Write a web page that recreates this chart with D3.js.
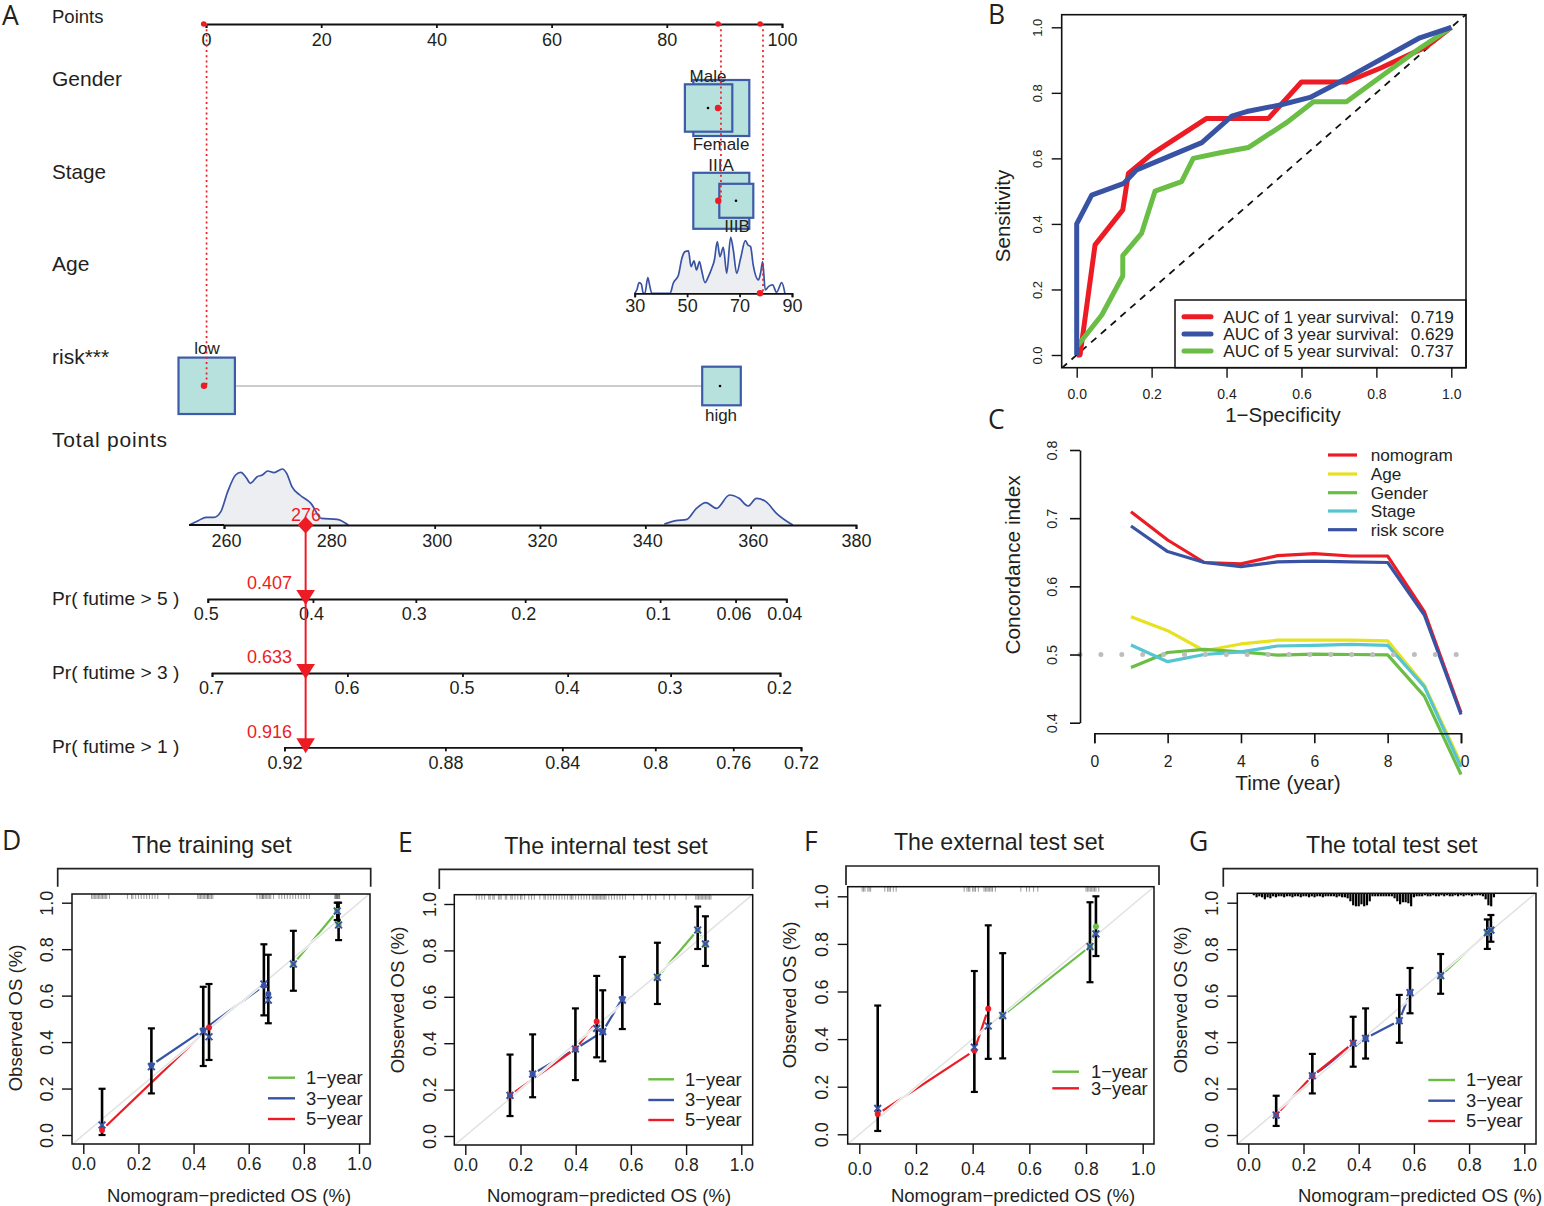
<!DOCTYPE html>
<html>
<head>
<meta charset="utf-8">
<script src="https://cdn.jsdelivr.net/npm/d3@7"></script>
<style>
body { margin: 0; background: #fff; }
svg { display: block; }
text { font-family: "Liberation Sans", Arial, sans-serif; fill: #231f20; }
.panel-letter { font-family: "Open Sans", sans-serif; font-size: 26.5px; }
</style>
</head>
<body>
<svg id="chart" width="1544" height="1206"></svg>
<script>
// colours
var RED = "#ed1c24", BLUE = "#3953a4", GREEN = "#6abd45", YELLOW = "#e6e21f", CYAN = "#56c5d0"

// panel A, nomogram
var pointsTicks = [0, 20, 40, 60, 80, 100]
var pointsDots = [-0.4, 88.9, 96.2]
var pointsDotted = [0.1, 89.4, 96.7]
var ageTicks = [30, 50, 70, 90]
var ageX = [30, 30.8, 31.7, 32.5, 33.3, 33.9, 35, 35.8, 36.5, 43.5, 44.7, 46.7, 48, 49.2, 50.5, 51.5, 52.6, 53.6, 54.7, 55.5, 56.8, 58.1, 59.4, 60.4, 61.5, 62.5, 63.8, 65.1, 66.6, 67.6, 68.9, 70.4, 72.2, 73.2, 74.2, 75.2, 77.2, 78, 78.8, 79.8, 81, 82.6, 84.1, 86.1, 87.3]
var ageDensity = [0, 10, 32, 28, 0, 0, 47, 20, 0, 0, 30, 55, 105, 125, 127, 80, 97, 70, 95, 70, 32, 50, 75, 100, 155, 110, 138, 60, 168, 130, 60, 105, 158, 145, 140, 85, 40, 60, 95, 10, 20, 25, 3, 32, 0]
var totalTicks = [260, 280, 300, 320, 340, 360, 380]
var totalX1 = [253.4, 255.1, 256.6, 258.1, 259.4, 260.7, 262.2, 263.2, 264.3, 265, 266.3, 267.3, 268.3, 269.5, 271.1, 271.9, 272.9, 274.4, 276.5, 278.5, 281.5, 283.6]
var totalDensity1 = [0, 13, 23, 23, 40, 100, 150, 158, 140, 125, 145, 150, 162, 157, 168, 155, 115, 90, 65, 20, 17, 0]
var totalX2 = [343.6, 345.8, 347.9, 349.7, 351.5, 353.5, 356, 357.8, 359.5, 361.1, 362.9, 364.9, 368]
var totalDensity2 = [3, 13, 17, 50, 67, 50, 90, 80, 57, 80, 70, 35, 0]
var pr5Ticks = [0.5, 0.4, 0.3, 0.2, 0.1, 0.06, 0.04]
var pr3Ticks = [0.7, 0.6, 0.5, 0.4, 0.3, 0.2]
var pr1Ticks = [0.92, 0.88, 0.84, 0.8, 0.76, 0.72]
var totalMarker = 275.5
var prLabels = ["0.407", "0.633", "0.916"]

// panel B, ROC
var rocRedX = [0, 0.009, 0.049, 0.123, 0.138, 0.2, 0.347, 0.512, 0.6, 0.72, 0.81, 0.934, 1]
var rocRedY = [0, 0, 0.336, 0.443, 0.554, 0.613, 0.722, 0.722, 0.833, 0.833, 0.875, 0.941, 1]
var rocBlueX = [0, 0, 0.04, 0.126, 0.16, 0.334, 0.414, 0.454, 0.543, 0.623, 0.72, 0.916, 1]
var rocBlueY = [0, 0.4, 0.488, 0.524, 0.565, 0.648, 0.729, 0.743, 0.763, 0.786, 0.844, 0.968, 1]
var rocGreenX = [0, 0.067, 0.123, 0.123, 0.173, 0.209, 0.28, 0.311, 0.383, 0.458, 0.56, 0.632, 0.72, 0.916, 1]
var rocGreenY = [0.025, 0.122, 0.241, 0.303, 0.371, 0.5, 0.529, 0.6, 0.617, 0.633, 0.709, 0.773, 0.773, 0.936, 1]
var rocLegend = ["AUC of 1 year survival:", "AUC of 3 year survival:", "AUC of 5 year survival:"]
var rocAuc = ["0.719", "0.629", "0.737"]
var unitTicks = [0, 0.2, 0.4, 0.6, 0.8, 1]

// panel C, concordance
var years = [1, 2, 3, 4, 5, 6, 7, 8, 9, 10]
var cNomogram = [0.7095, 0.668, 0.635, 0.633, 0.645, 0.648, 0.6445, 0.6445, 0.563, 0.415]
var cAge = [0.5555, 0.535, 0.5055, 0.5155, 0.521, 0.521, 0.521, 0.52, 0.455, 0.34]
var cGender = [0.481, 0.503, 0.5075, 0.504, 0.499, 0.5005, 0.5, 0.4995, 0.439, 0.324]
var cStage = [0.514, 0.4895, 0.5, 0.504, 0.5125, 0.5135, 0.515, 0.5135, 0.453, 0.335]
var cRisk = [0.6885, 0.651, 0.635, 0.629, 0.636, 0.637, 0.636, 0.635, 0.558, 0.412]
var cNames = ["nomogram", "Age", "Gender", "Stage", "risk score"]
var cYTicks = [0.4, 0.5, 0.6, 0.7, 0.8]
var cXTicks = [0, 2, 4, 6, 8]

// panel D, training set
var predD = [0.068, 0.456, 0.247, 0.435, 0.655, 0.671, 0.762, 0.921, 0.926]
var obsD = [0.022, 0.463, 0.301, 0.452, 0.643, 0.607, 0.736, 0.964, 0.904]
var corD = [0.043, 0.423, 0.294, 0.445, 0.65, 0.581, 0.736, 0.964, 0.904]
var loD = [0, 0.323, 0.179, 0.297, 0.515, 0.481, 0.621, 0.925, 0.839]
var hiD = [0.199, 0.65, 0.459, 0.638, 0.821, 0.776, 0.879, 1, 1]
var groupsD = [[6, 7, 8], [2, 3, 4, 5], [0, 1]]
var rugD = [0.03, 0.035, 0.04, 0.045, 0.05, 0.055, 0.06, 0.065, 0.07, 0.075, 0.08, 0.085, 0.095, 0.16, 0.175, 0.18, 0.19, 0.2, 0.21, 0.22, 0.23, 0.24, 0.25, 0.26, 0.27, 0.31, 0.415, 0.42, 0.425, 0.43, 0.435, 0.44, 0.445, 0.45, 0.452, 0.455, 0.46, 0.465, 0.47, 0.63, 0.64, 0.645, 0.65, 0.652, 0.655, 0.66, 0.665, 0.67, 0.675, 0.68, 0.69, 0.71, 0.72, 0.73, 0.74, 0.75, 0.76, 0.77, 0.78, 0.79, 0.8, 0.81, 0.82, 0.912, 0.915, 0.918, 0.92, 0.922, 0.925, 0.928, 0.93]

// panel E, internal test set
var predE = [0.162, 0.244, 0.399, 0.476, 0.498, 0.569, 0.696, 0.842, 0.87]
var obsE = [0.175, 0.267, 0.375, 0.493, 0.45, 0.593, 0.684, 0.888, 0.828]
var corE = [0.175, 0.267, 0.375, 0.464, 0.45, 0.586, 0.684, 0.888, 0.828]
var loE = [0.086, 0.167, 0.241, 0.339, 0.322, 0.461, 0.569, 0.806, 0.733]
var hiE = [0.351, 0.438, 0.55, 0.69, 0.628, 0.772, 0.833, 0.989, 0.947]
var groupsE = [[6, 7, 8], [1, 2, 4, 5], [0, 2, 3]]
var rugE = [0.04, 0.05, 0.06, 0.07, 0.085, 0.09, 0.1, 0.105, 0.12, 0.125, 0.13, 0.145, 0.15, 0.165, 0.17, 0.18, 0.19, 0.2, 0.205, 0.215, 0.23, 0.24, 0.25, 0.27, 0.285, 0.29, 0.3, 0.31, 0.32, 0.33, 0.34, 0.35, 0.36, 0.37, 0.38, 0.385, 0.39, 0.4, 0.41, 0.42, 0.43, 0.44, 0.45, 0.46, 0.465, 0.47, 0.475, 0.48, 0.485, 0.49, 0.495, 0.5, 0.505, 0.51, 0.52, 0.53, 0.54, 0.55, 0.56, 0.57, 0.58, 0.61, 0.64, 0.66, 0.67, 0.69, 0.72, 0.74, 0.76, 0.8, 0.835, 0.84, 0.845, 0.85, 0.855, 0.86, 0.865, 0.87, 0.875, 0.88, 0.885, 0.89]

// panel F, external test set
var predF = [0.065, 0.406, 0.455, 0.506, 0.814, 0.835]
var obsF = [0.085, 0.352, 0.527, 0.499, 0.789, 0.873]
var corF = [0.109, 0.366, 0.455, 0.499, 0.789, 0.842]
var loF = [0.014, 0.178, 0.317, 0.319, 0.639, 0.749]
var hiF = [0.541, 0.686, 0.878, 0.761, 0.975, 1]
var groupsF = [[3, 4, 5], [], [0, 1, 2]]
var rugF = [0.01, 0.015, 0.02, 0.03, 0.035, 0.04, 0.09, 0.1, 0.105, 0.11, 0.12, 0.13, 0.37, 0.38, 0.385, 0.39, 0.4, 0.405, 0.41, 0.42, 0.44, 0.445, 0.45, 0.455, 0.46, 0.465, 0.47, 0.48, 0.57, 0.59, 0.6, 0.615, 0.63, 0.8, 0.805, 0.81, 0.815, 0.82, 0.825, 0.83, 0.835, 0.845]

// panel G, total test set
var predG = [0.101, 0.232, 0.38, 0.425, 0.547, 0.586, 0.697, 0.866, 0.879]
var obsG = [0.086, 0.255, 0.395, 0.416, 0.492, 0.613, 0.686, 0.871, 0.882]
var corG = [0.086, 0.255, 0.395, 0.416, 0.492, 0.613, 0.686, 0.871, 0.882]
var loG = [0.039, 0.179, 0.294, 0.329, 0.397, 0.524, 0.608, 0.801, 0.832]
var hiG = [0.169, 0.349, 0.509, 0.545, 0.603, 0.719, 0.779, 0.928, 0.947]
var groupsG = [[6, 7, 8], [1, 3, 4, 5], [0, 1, 2]]
var rugGx = [0.02, 0.03, 0.04, 0.05, 0.06, 0.07, 0.08, 0.09, 0.1, 0.11, 0.12, 0.13, 0.14, 0.15, 0.16, 0.17, 0.18, 0.19, 0.2, 0.21, 0.22, 0.23, 0.24, 0.25, 0.26, 0.27, 0.28, 0.29, 0.3, 0.31, 0.32, 0.33, 0.34, 0.35, 0.36, 0.37, 0.38, 0.39, 0.4, 0.41, 0.42, 0.43, 0.44, 0.45, 0.46, 0.47, 0.48, 0.49, 0.5, 0.51, 0.52, 0.53, 0.54, 0.55, 0.56, 0.57, 0.58, 0.59, 0.6, 0.61, 0.62, 0.63, 0.64, 0.65, 0.66, 0.67, 0.68, 0.69, 0.7, 0.71, 0.72, 0.73, 0.74, 0.75, 0.76, 0.77, 0.78, 0.79, 0.8, 0.81, 0.82, 0.83, 0.84, 0.85, 0.86, 0.87, 0.88, 0.89]
var rugGh = [2, 4, 3, 4, 6, 4, 5, 3, 4, 3, 3, 4, 3, 3, 4, 3, 3, 4, 3, 3, 4, 3, 4, 3, 3, 4, 3, 3, 3, 3, 4, 3, 4, 4, 5, 8, 12, 13, 13, 11, 13, 12, 8, 3, 3, 3, 3, 3, 3, 3, 3, 5, 8, 11, 9, 9, 10, 13, 4, 3, 3, 3, 2, 3, 3, 2, 3, 3, 2, 3, 2, 3, 3, 2, 3, 2, 3, 2, 2, 3, 2, 2, 2, 3, 6, 12, 13, 4]

var svg = d3.select("#chart")

function cloglog(p)
{
    return Math.log(-Math.log(p))
}

function addText(parent, x, y, str, size, anchor, rotate)
{
    var t = parent.append("text")
        .attr("font-size", size)
        .attr("text-anchor", anchor || "start")
        .attr("dy", "0.35em")
        .text(str)
    if(rotate)
        t.attr("transform", "translate(" + x + "," + y + ") rotate(-90)")
    else
        t.attr("x", x).attr("y", y)
    return t
}

function styleAxis(g, width)
{
    g.selectAll("path.domain").attr("stroke", "#111").attr("stroke-width", width)
    g.selectAll(".tick line").attr("stroke", "#111").attr("stroke-width", width)
}

// nomogram axis with labels centred at labelY
function nomAxis(scale, y, ticks, labels, labelY, dx)
{
    var g = svg.append("g").attr("transform", "translate(0," + y + ")")
        .call(d3.axisBottom(scale).tickValues(ticks).tickSizeOuter(0).tickSize(4)
            .tickFormat(function(d, i){ return labels[i] }))
    styleAxis(g, 1.8)
    g.selectAll(".tick text")
        .attr("font-size", 18)
        .attr("font-family", null)
        .attr("y", labelY - y)
        .attr("x", dx)
        .attr("dy", "0.35em")
    return g
}

function nomBox(cx, cy, half)
{
    svg.append("rect")
        .attr("x", cx - half).attr("y", cy - half)
        .attr("width", half * 2).attr("height", half * 2)
        .attr("fill", "#b7e1dc").attr("stroke", "#3e5ba9").attr("stroke-width", 2.2)
}

function dot(x, y, r, col)
{
    svg.append("circle").attr("cx", x).attr("cy", y).attr("r", r).attr("fill", col)
}

function drawDensity(data, xScale, yScale, filled)
{
    svg.append("path").datum(filled)
        .attr("fill", "#edeef2")
        .attr("d", d3.area().curve(d3.curveMonotoneX)
            .x(function(d){ return xScale(d[0]) }).y0(yScale(0)).y1(function(d){ return yScale(d[1]) }))
    svg.append("path").datum(data)
        .attr("fill", "none").attr("stroke", BLUE).attr("stroke-width", 1.7)
        .attr("d", d3.line().curve(d3.curveMonotoneX)
            .x(function(d){ return xScale(d[0]) }).y(function(d){ return yScale(d[1]) }))
}

function drawNomogram()
{
    var pts = d3.scaleLinear().domain([0, 100]).range([206, 782])
    var rowLabels = [["Points", 17, 18.5], ["Gender", 79, 21], ["Stage", 172, 20.7], ["Age", 264, 21], ["risk***", 357, 21], ["Total points", 440, 21], ["Pr( futime > 5 )", 598, 19.2], ["Pr( futime > 3 )", 672, 19.2], ["Pr( futime > 1 )", 746, 19.2]]
    rowLabels.forEach(function(r)
    {
        var t = addText(svg, 52, r[1], r[0], r[2])
        if(r[0] == "Total points") t.attr("letter-spacing", 0.8)
    })

    // risk connector
    svg.append("line").attr("x1", 235).attr("x2", 702).attr("y1", 386).attr("y2", 386)
        .attr("stroke", "#bdbdbd").attr("stroke-width", 1.6)

    nomBox(721.3, 108, 28)
    nomBox(708.6, 108, 23.7)
    nomBox(721.3, 200.8, 28)
    nomBox(736.3, 200.8, 17)
    nomBox(206.7, 385.8, 28.2)
    nomBox(721.5, 386, 19.3)

    var boxLabels = [["Male", 708, 76], ["Female", 721, 144], ["IIIA", 721, 165], ["IIIB", 737, 226], ["low", 207, 348], ["high", 721, 415]]
    boxLabels.forEach(function(b){ addText(svg, b[1], b[2], b[0], 17, "middle") })

    var blackDots = [[708, 108], [736, 200.8], [720, 386]]
    blackDots.forEach(function(d){ dot(d[0], d[1], 1.3, "#000") })

    // age density, only the main body is shaded
    var age = d3.scaleLinear().domain([30, 90]).range([634.7, 792])
    var ageH = d3.scaleLinear().domain([0, 168]).range([293.3, 237.3])
    var ageData = ageX.map(function(d, i){ return [d, ageDensity[i]] })
    var ageBody = ageData.filter(function(d){ return d[0] >= 43.5 && d[0] <= 79.8 })
    drawDensity(ageData, age, ageH, ageBody)
    nomAxis(age, 293.3, ageTicks, ageTicks, 306, 0)

    // total points density
    var total = d3.scaleLinear().domain([260, 380]).range([224, 856])
    var totalH = d3.scaleLinear().domain([0, 168]).range([525, 469])
    var humps = [[totalX1, totalDensity1], [totalX2, totalDensity2]]
    humps.forEach(function(h)
    {
        var data = h[0].map(function(d, i){ return [d, h[1][i]] })
        drawDensity(data, total, totalH, data)
    })
    var totalAxis = nomAxis(total, 525, totalTicks, totalTicks, 540.7, 2)
    totalAxis.selectAll(".tick text").filter(function(d){ return d == 380 }).attr("x", 0)
    svg.append("line").attr("x1", 189).attr("x2", 224).attr("y1", 525).attr("y2", 525)
        .attr("stroke", "#111").attr("stroke-width", 1.8)

    // points axis and probability axes
    nomAxis(pts, 24, pointsTicks, pointsTicks, 40, 0)

    var pr5 = d3.scaleLinear().domain([cloglog(0.5), cloglog(0.04)]).range([207.8, 786.3])
    nomAxis(pr5, 599, pr5Ticks.map(cloglog), pr5Ticks, 614, -2)
    var pr3 = d3.scaleLinear().domain([cloglog(0.7), cloglog(0.2)]).range([212, 780])
    nomAxis(pr3, 673, pr3Ticks.map(cloglog), pr3Ticks, 688, -1)
    var pr1 = d3.scaleLinear().domain([cloglog(0.92), cloglog(0.72)]).range([284.4, 801])
    nomAxis(pr1, 747.3, pr1Ticks.map(cloglog), pr1Ticks, 762.7, 0)

    // red dotted guides
    var dottedEnds = [385.8, 200.8, 293.3]
    pointsDotted.forEach(function(p, i)
    {
        svg.append("line").attr("x1", pts(p)).attr("x2", pts(p)).attr("y1", 24).attr("y2", dottedEnds[i])
            .attr("stroke", RED).attr("stroke-width", 1.7).attr("stroke-dasharray", "2 3.2")
    })
    pointsDots.forEach(function(p){ dot(pts(p), 24, 2.8, RED) })
    dot(718, 108, 3.2, RED)
    dot(718.3, 200.8, 3.2, RED)
    dot(760, 293.3, 3.2, RED)
    dot(204, 385.8, 3.2, RED)

    // red prediction line
    var mx = total(totalMarker)
    svg.append("line").attr("x1", mx).attr("x2", mx).attr("y1", 525).attr("y2", 750)
        .attr("stroke", RED).attr("stroke-width", 2)
    svg.append("path")
        .attr("transform", "translate(" + mx + ",525)")
        .attr("d", "M0,-8.5L8,0L0,8.5L-8,0Z").attr("fill", RED)
    var arrowY = [599, 673, 747.3]
    arrowY.forEach(function(y, i)
    {
        svg.append("path")
            .attr("transform", "translate(" + mx + "," + y + ")")
            .attr("d", "M-9.3,-9L9.3,-9L0,6Z").attr("fill", RED)
        addText(svg, 269.5, y - 16, prLabels[i], 18, "middle").style("fill", RED)
    })
    addText(svg, 306, 515, "276", 18, "middle").style("fill", RED)
}

function drawRoc()
{
    var x = d3.scaleLinear().domain([0, 1]).range([1076.7, 1451.3])
    var y = d3.scaleLinear().domain([0, 1]).range([355, 27.3])
    var box = {x: 1061.7, y: 14.7, w: 404.3, h: 353}

    svg.append("clipPath").attr("id", "rocClip").append("rect")
        .attr("x", box.x).attr("y", box.y).attr("width", box.w).attr("height", box.h)

    var diag = [-0.04, 1.04]
    svg.append("line").attr("clip-path", "url(#rocClip)")
        .attr("x1", x(diag[0])).attr("y1", y(diag[0])).attr("x2", x(diag[1])).attr("y2", y(diag[1]))
        .attr("stroke", "#111").attr("stroke-width", 1.8).attr("stroke-dasharray", "7 6")

    var series = [[rocRedX, rocRedY, RED], [rocGreenX, rocGreenY, GREEN], [rocBlueX, rocBlueY, BLUE]]
    series.forEach(function(s)
    {
        var data = s[0].map(function(d, i){ return [x(d), y(s[1][i])] })
        svg.append("path").datum(data)
            .attr("fill", "none").attr("stroke", s[2]).attr("stroke-width", 5)
            .attr("stroke-linejoin", "round")
            .attr("d", d3.line())
    })

    // legend
    svg.append("rect").attr("x", 1175).attr("y", 300).attr("width", 291).attr("height", 67.7)
        .attr("fill", "#fff").attr("stroke", "#111").attr("stroke-width", 1.5)
    var legendCols = [RED, BLUE, GREEN]
    var legendY = [316.7, 334, 351]
    rocLegend.forEach(function(str, i)
    {
        svg.append("line").attr("x1", 1184).attr("x2", 1211).attr("y1", legendY[i]).attr("y2", legendY[i])
            .attr("stroke", legendCols[i]).attr("stroke-width", 5).attr("stroke-linecap", "round")
        addText(svg, 1223.3, legendY[i], str, 17.2)
        addText(svg, 1410.7, legendY[i], rocAuc[i], 17.2)
    })

    svg.append("rect").attr("x", box.x).attr("y", box.y).attr("width", box.w).attr("height", box.h)
        .attr("fill", "none").attr("stroke", "#111").attr("stroke-width", 1.6)

    var gx = svg.append("g").attr("transform", "translate(0," + (box.y + box.h) + ")")
        .call(d3.axisBottom(x).tickValues(unitTicks).tickSize(10).tickSizeOuter(0).tickFormat(d3.format(".1f")))
    styleAxis(gx, 1.4)
    gx.select("path.domain").remove()
    gx.selectAll(".tick text").attr("font-size", 14).attr("font-family", null).attr("y", 26.5).attr("dy", "0.35em")

    var gy = svg.append("g").attr("transform", "translate(" + box.x + ",0)")
        .call(d3.axisLeft(y).tickValues(unitTicks).tickSize(10).tickSizeOuter(0).tickFormat(d3.format(".1f")))
    styleAxis(gy, 1.4)
    gy.select("path.domain").remove()
    gy.selectAll(".tick text").attr("font-size", 13).attr("font-family", null)
        .attr("x", null).attr("text-anchor", "middle")
        .attr("transform", "translate(-24.5,0) rotate(-90)").attr("dy", "0.35em")

    addText(svg, 1003, 216, "Sensitivity", 20.5, "middle", true)
    addText(svg, 1283, 415, "1\u2212Specificity", 20.5, "middle")
}

function drawConcordance()
{
    var x = d3.scaleLinear().domain([0, 10]).range([1094.3, 1461])
    var y = d3.scaleLinear().domain([0.4, 0.8]).range([722.7, 450])
    var series = [[cNomogram, RED], [cAge, YELLOW], [cGender, GREEN], [cStage, CYAN], [cRisk, BLUE]]
    var line = d3.line().x(function(d, i){ return x(years[i]) }).y(function(d){ return y(d) })

    series.forEach(function(s)
    {
        svg.append("path").datum(s[0])
            .attr("fill", "none").attr("stroke", s[1]).attr("stroke-width", 3.2)
            .attr("stroke-linejoin", "round")
            .attr("d", line)
    })

    // reference at 0.5
    svg.append("line").attr("x1", 1080).attr("x2", 1458).attr("y1", y(0.5)).attr("y2", y(0.5))
        .attr("stroke", "#bdbdbd").attr("stroke-width", 5)
        .attr("stroke-linecap", "round").attr("stroke-dasharray", "0 20.9")

    var gy = svg.append("g").attr("transform", "translate(1080,0)")
        .call(d3.axisLeft(y).tickValues(cYTicks).tickSize(10).tickSizeOuter(0).tickFormat(d3.format(".1f")))
    styleAxis(gy, 1.6)
    gy.selectAll(".tick text").attr("font-size", 14.4).attr("font-family", null)
        .attr("x", null).attr("text-anchor", "middle")
        .attr("transform", "translate(-28,0) rotate(-90)").attr("dy", "0.35em")

    var gx = svg.append("g").attr("transform", "translate(0,733.3)")
        .call(d3.axisBottom(x).tickValues(cXTicks.concat([10])).tickSize(10)
            .tickFormat(function(d){ return d == 10 ? "" : d }))
    styleAxis(gx, 1.6)
    gx.selectAll(".tick text").attr("font-size", 15.7).attr("font-family", null).attr("y", 28.5).attr("dy", "0.35em")
    // only the 0 of the last label survives in the figure
    addText(svg, 1465, 761.7, "0", 15.7, "middle")

    addText(svg, 1013, 565, "Concordance index", 20.8, "middle", true)
    addText(svg, 1288, 783, "Time (year)", 20.8, "middle")

    var legendCols = [RED, YELLOW, GREEN, CYAN, BLUE]
    var legendY = [455, 474, 492.7, 511, 529.7]
    cNames.forEach(function(n, i)
    {
        svg.append("line").attr("x1", 1328).attr("x2", 1357).attr("y1", legendY[i]).attr("y2", legendY[i])
            .attr("stroke", legendCols[i]).attr("stroke-width", 3.2)
        addText(svg, 1370.7, legendY[i], n, 17.2)
    })
}

function drawCalibration(p, idx)
{
    var x = d3.scaleLinear().domain([0, 1]).range(p.xRange)
    var y = d3.scaleLinear().domain([0, 1]).range(p.yRange)
    var b = p.box
    var cols = [GREEN, BLUE, RED]
    var g = svg.append("g")

    var clipId = "calClip" + idx
    g.append("clipPath").attr("id", clipId).append("rect")
        .attr("x", b[0]).attr("y", b[1]).attr("width", b[2] - b[0]).attr("height", b[3] - b[1])

    // bracket above the plot
    g.append("path")
        .attr("d", "M" + p.bracket[0] + "," + p.bracket[3] + "V" + p.bracket[2] + "H" + p.bracket[1] + "V" + p.bracket[3])
        .attr("fill", "none").attr("stroke", "#222").attr("stroke-width", 1.7)

    // type "b" lines, with a gap round every point
    var gap = 6
    p.groups.forEach(function(grp, c)
    {
        for(var i=0; i<grp.length-1; i++)
        {
            var x1 = x(p.pred[grp[i]]), y1 = y(p.obs[grp[i]])
            var x2 = x(p.pred[grp[i+1]]), y2 = y(p.obs[grp[i+1]])
            var len = Math.hypot(x2 - x1, y2 - y1)
            if(len <= gap * 2) continue
            var ux = (x2 - x1) / len, uy = (y2 - y1) / len
            g.append("line")
                .attr("x1", x1 + ux * gap).attr("y1", y1 + uy * gap)
                .attr("x2", x2 - ux * gap).attr("y2", y2 - uy * gap)
                .attr("stroke", cols[c]).attr("stroke-width", 2.2)
        }
    })

    // ideal line
    var ends = [-0.1, 1.1]
    var halo = [["#fff", 3], ["#e2e2e2", 1.5]]
    halo.forEach(function(h)
    {
        g.append("line").attr("clip-path", "url(#" + clipId + ")")
            .attr("x1", x(ends[0])).attr("y1", y(ends[0])).attr("x2", x(ends[1])).attr("y2", y(ends[1]))
            .attr("stroke", h[0]).attr("stroke-width", h[1])
    })

    // error bars
    p.pred.forEach(function(d, i)
    {
        var px = x(d)
        g.append("line").attr("x1", px).attr("x2", px).attr("y1", y(p.lo[i])).attr("y2", y(p.hi[i]))
            .attr("stroke", "#000").attr("stroke-width", 2.6)
        var caps = [p.lo[i], p.hi[i]]
        caps.forEach(function(v)
        {
            g.append("line").attr("x1", px - 3.5).attr("x2", px + 3.5).attr("y1", y(v)).attr("y2", y(v))
                .attr("stroke", "#000").attr("stroke-width", 2.2)
        })
    })

    // observed dots and bias corrected crosses
    p.groups.forEach(function(grp, c)
    {
        grp.forEach(function(j)
        {
            g.append("circle").attr("cx", x(p.pred[j])).attr("cy", y(p.obs[j])).attr("r", 3).attr("fill", cols[c])
        })
    })
    p.pred.forEach(function(d, i)
    {
        var px = x(d), py = y(p.cor[i]), s = 3.4
        g.append("path").attr("d", "M" + (px - s) + "," + (py - s) + "L" + (px + s) + "," + (py + s) + "M" + (px - s) + "," + (py + s) + "L" + (px + s) + "," + (py - s))
            .attr("stroke", BLUE).attr("stroke-width", 2)
    })

    // rug
    p.rug.forEach(function(d, i)
    {
        var depth = p.rugH ? p.rugH[i] : 5
        g.append("line").attr("x1", x(d)).attr("x2", x(d)).attr("y1", b[1]).attr("y2", b[1] + depth)
            .attr("stroke", "#000").attr("stroke-width", p.rugH ? 2.2 : 0.8)
            .attr("stroke-opacity", p.rugH ? 1 : 0.5)
    })

    g.append("rect").attr("x", b[0]).attr("y", b[1]).attr("width", b[2] - b[0]).attr("height", b[3] - b[1])
        .attr("fill", "none").attr("stroke", "#111").attr("stroke-width", 1.5)

    var gx = g.append("g").attr("transform", "translate(0," + b[3] + ")")
        .call(d3.axisBottom(x).tickValues(unitTicks).tickSize(10).tickSizeOuter(0).tickFormat(d3.format(".1f")))
    styleAxis(gx, 1.4)
    gx.select("path.domain").remove()
    gx.selectAll(".tick text").attr("font-size", 17.5).attr("font-family", null).attr("y", p.xLabelY - b[3]).attr("dy", "0.35em")

    var gy = g.append("g").attr("transform", "translate(" + b[0] + ",0)")
        .call(d3.axisLeft(y).tickValues(unitTicks).tickSize(10).tickSizeOuter(0).tickFormat(d3.format(".1f")))
    styleAxis(gy, 1.4)
    gy.select("path.domain").remove()
    gy.selectAll(".tick text").attr("font-size", 18).attr("font-family", null)
        .attr("x", null).attr("text-anchor", "middle")
        .attr("transform", "translate(" + (p.yLabelX - b[0]) + ",0) rotate(-90)").attr("dy", "0.35em")

    addText(g, p.titleX, p.titleY, p.title, 23.2, "middle")
    addText(g, p.yTitle[0], p.yTitle[1], "Observed OS (%)", 18.6, "middle", true)
    addText(g, p.xTitle[0], p.xTitle[1], "Nomogram\u2212predicted OS (%)", 18.5, "middle")

    p.legend.forEach(function(l)
    {
        g.append("line").attr("x1", p.legendX[0]).attr("x2", p.legendX[1]).attr("y1", l[1]).attr("y2", l[1])
            .attr("stroke", l[2]).attr("stroke-width", 2.4)
        addText(g, p.legendX[2], l[1], l[0], 18.4)
    })
}

var calPanels = [
    {title: "The training set", titleX: 211.7, titleY: 845, box: [72, 894, 370, 1144], xRange: [83.3, 359], yRange: [1135, 902.7],
     bracket: [57.7, 370.7, 868.7, 886.7], xLabelY: 1164, yLabelX: 46.7, yTitle: [15, 1018], xTitle: [229, 1196],
     legendX: [268, 295, 306], legend: [["1\u2212year", 1077.7, GREEN], ["3\u2212year", 1098.3, BLUE], ["5\u2212year", 1119, RED]],
     pred: predD, obs: obsD, cor: corD, lo: loD, hi: hiD, groups: groupsD, rug: rugD},
    {title: "The internal test set", titleX: 606, titleY: 846, box: [454.3, 894.7, 752.7, 1145], xRange: [465.3, 741.3], yRange: [1136, 904],
     bracket: [439.3, 752.7, 869.3, 889], xLabelY: 1165, yLabelX: 430, yTitle: [397.7, 1000], xTitle: [609, 1195.5],
     legendX: [648.3, 674, 685], legend: [["1\u2212year", 1079.3, GREEN], ["3\u2212year", 1100, BLUE], ["5\u2212year", 1120, RED]],
     pred: predE, obs: obsE, cor: corE, lo: loE, hi: hiE, groups: groupsE, rug: rugE},
    {title: "The external test set", titleX: 999, titleY: 842, box: [847.7, 886.7, 1154, 1144], xRange: [859.3, 1142.7], yRange: [1134.3, 896.3],
     bracket: [846, 1159, 866, 885], xLabelY: 1169, yLabelX: 822, yTitle: [789, 995], xTitle: [1013, 1195.5],
     legendX: [1052.3, 1079, 1091], legend: [["1\u2212year", 1071.7, GREEN], ["3\u2212year", 1088.3, RED]],
     pred: predF, obs: obsF, cor: corF, lo: loF, hi: hiF, groups: groupsF, rug: rugF},
    {title: "The total test set", titleX: 1391.7, titleY: 845, box: [1237.3, 893.3, 1536, 1144], xRange: [1248.3, 1524.3], yRange: [1135, 902.7],
     bracket: [1223.3, 1537.3, 868.7, 886.7], xLabelY: 1165, yLabelX: 1211.7, yTitle: [1180, 1000], xTitle: [1420, 1195.5],
     legendX: [1428.3, 1455, 1466], legend: [["1\u2212year", 1080, GREEN], ["3\u2212year", 1100.7, BLUE], ["5\u2212year", 1121, RED]],
     pred: predG, obs: obsG, cor: corG, lo: loG, hi: hiG, groups: groupsG, rug: rugGx, rugH: rugGh}
]

drawNomogram()
drawRoc()
drawConcordance()
calPanels.forEach(drawCalibration)

var panelLetters = [["A", 2, 16], ["B", 988, 15], ["C", 988, 420], ["D", 2, 841], ["E", 398, 843], ["F", 804, 842], ["G", 1189, 842]]
panelLetters.forEach(function(l)
{
    svg.append("text").attr("class", "panel-letter").attr("x", l[1]).attr("y", l[2]).attr("dy", "0.35em").text(l[0])
})
</script>
</body>
</html>
